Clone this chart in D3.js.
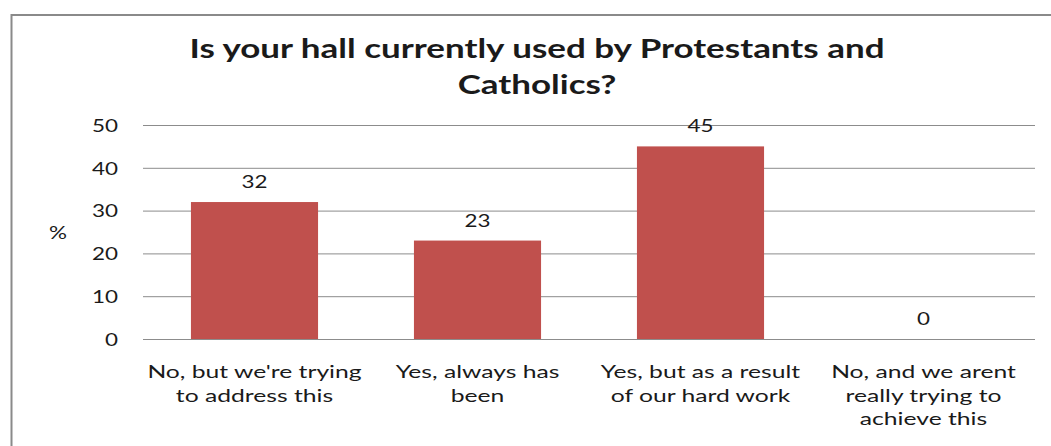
<!DOCTYPE html>
<html>
<head>
<meta charset="utf-8">
<script src="https://cdn.jsdelivr.net/npm/d3@7"></script>
<style>
  html, body { margin: 0; padding: 0; background: #fff; }
  svg { display: block; }
  text { font-family: Lato, "Open Sans", sans-serif; fill: #1a1a1a; }
</style>
</head>
<body>
<svg id="chart" width="1051" height="446"></svg>
<script>
// Survey answers (percent of halls)
const categories = [
  "No, but we're trying\nto address this",
  "Yes, always has\nbeen",
  "Yes, but as a result\nof our hard work",
  "No, and we arent\nreally trying to\nachieve this"
];
const values = [32, 23, 45, 0];
const yTicks = [0, 10, 20, 30, 40, 50];
const titleLines = ["Is your hall currently used by Protestants and", "Catholics?"];
const yLabel = "%";

const W = 1051, H = 446;
const margin = { left: 143, right: 16, top: 125, bottom: 107 };
const barColor = "#C0504D";
const gridColor = "#8c8c8c";

const svg = d3.select("#chart");

// outer frame
svg.append("rect")
  .attr("x", 11.5).attr("y", 15)
  .attr("width", W + 20).attr("height", H + 20)
  .attr("fill", "none")
  .attr("stroke", "#8a8a8a")
  .attr("stroke-width", 2);

const x = d3.scaleBand()
  .domain(categories)
  .range([margin.left, W - margin.right])
  .paddingInner(0.43)
  .paddingOuter(0.215);

const y = d3.scaleLinear()
  .domain([0, 50])
  .range([H - margin.bottom, margin.top]);

// helper to place horizontally widened text
function wideText(g, tx, ty, str, sx) {
  return g.append("text")
    .attr("transform", `translate(${tx},${ty}) scale(${sx},1)`)
    .text(str);
}

// gridlines + y tick labels
const yAxis = svg.append("g")
  .attr("transform", `translate(${margin.left},0)`)
  .call(d3.axisLeft(y).tickValues(yTicks).tickSize(-(W - margin.right - margin.left)).tickPadding(0));
yAxis.select(".domain").remove();
yAxis.selectAll(".tick line").attr("stroke", gridColor).attr("stroke-width", 1);
yAxis.selectAll(".tick text")
  .attr("x", null).attr("dy", null)
  .attr("text-anchor", "end")
  .attr("dominant-baseline", "central")
  .attr("font-size", 16.5)
  .attr("transform", "translate(-25,0) scale(1.36,1)");

// bars
svg.append("g").selectAll("rect")
  .data(values)
  .join("rect")
  .attr("x", (d, i) => x(categories[i]))
  .attr("width", x.bandwidth())
  .attr("y", d => y(d))
  .attr("height", d => y(0) - y(d))
  .attr("fill", barColor);

// value labels
const vl = svg.append("g").attr("text-anchor", "middle").attr("font-size", 16.5);
values.forEach((v, i) => {
  wideText(vl, x(categories[i]) + x.bandwidth() / 2, y(v) - 14, String(v), 1.36);
});

// category labels
const cl = svg.append("g").attr("text-anchor", "middle").attr("font-size", 17.5);
categories.forEach(c => {
  c.split("\n").forEach((line, j) => {
    wideText(cl, x(c) + x.bandwidth() / 2, y(0) + 39 + j * 23.5, line, 1.41);
  });
});

// y-axis label
const yl = svg.append("g").attr("font-size", 16.5).attr("text-anchor", "middle");
wideText(yl, 58, 239, yLabel, 1.36);

// title
const tg = svg.append("g").attr("text-anchor", "middle")
  .attr("font-size", 26).attr("font-weight", "bold");
titleLines.forEach((t, i) => {
  wideText(tg, 537, 58 + i * 36, t, 1.345);
});
</script>
</body>
</html>
